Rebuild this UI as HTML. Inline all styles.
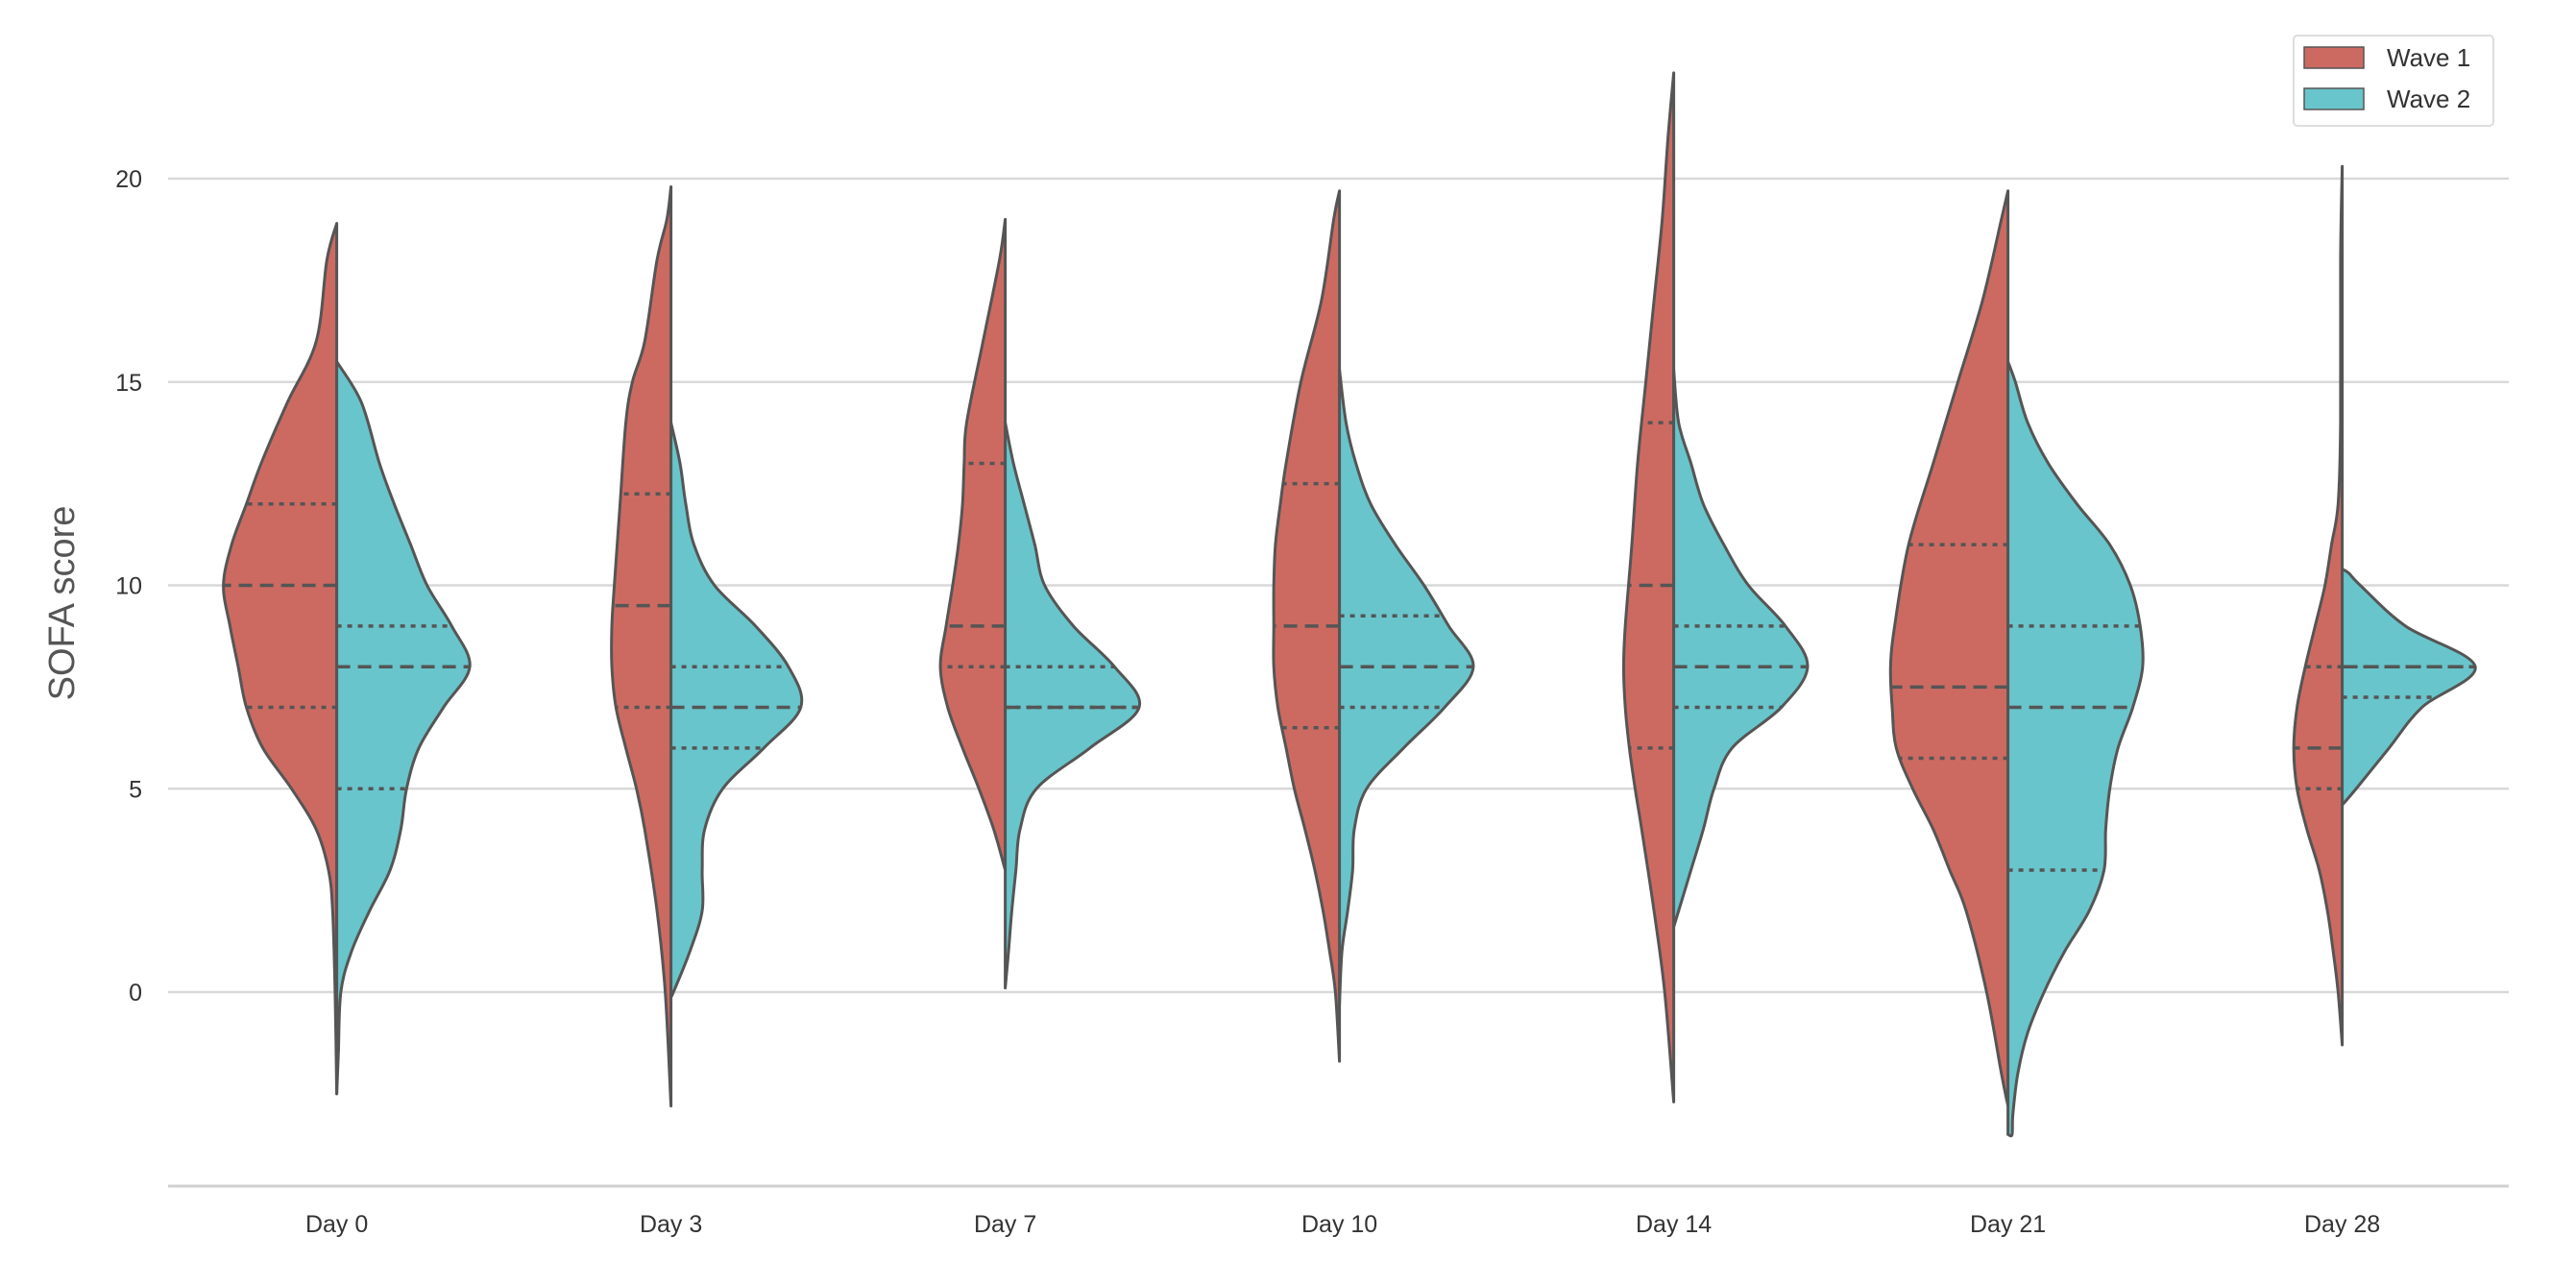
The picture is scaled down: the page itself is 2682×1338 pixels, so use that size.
<!DOCTYPE html>
<html><head><meta charset="utf-8"><style>
html,body{margin:0;padding:0;background:#fff;}
svg{display:block;font-family:"Liberation Sans",Arial,sans-serif;}
</style></head><body>
<svg id="chart" width="2682" height="1338" viewBox="0 0 2682 1338" xmlns="http://www.w3.org/2000/svg">
<g id="grid"></g>
<g id="violins"></g>
<g id="axes"></g>
<text x="77" y="628" transform="rotate(-90 77 628)" text-anchor="middle" font-size="38" fill="#555">SOFA score</text>
<g>
<rect x="2388" y="37" width="208" height="94" rx="4" fill="#fff" stroke="#ddd" stroke-width="2"/>
<rect x="2399" y="49" width="62" height="22" fill="#cc6a62" stroke="#555" stroke-width="1.5"/>
<text x="2485" y="69" font-size="26" fill="#333">Wave 1</text>
<rect x="2399" y="92" width="62" height="22" fill="#68c5cb" stroke="#555" stroke-width="1.5"/>
<text x="2485" y="112" font-size="26" fill="#333">Wave 2</text>
</g>
</svg>
<script>
const categories = ["Day 0","Day 3","Day 7","Day 10","Day 14","Day 21","Day 28"];
const yTicks = [0,5,10,15,20];
// density profiles: [score, density]
const wave1Profiles = [
 [[18.9,0],[18,12],[16,25],[14.5,60],[13,92],[12,110],[11,128],[10,138],[9,130],[8,120],[7,110],[6,90],[5,55],[4,25],[3,10],[2,5],[0,2],[-2.5,0]],
 [[19.8,0],[19,5],[18,17],[16,32],[15,47],[14,55],[12,62],[10,69],[9,72],[8,72],[7,67],[6,55],[5,42],[4,32],[2,17],[0,7],[-2.8,0]],
 [[19,0],[18,7],[16,27],[14,47],[13,50],[12,52],[11,57],[10,64],[9,72],[8,79],[7,70],[6,52],[5,32],[4,14],[3,0]],
 [[19.7,0],[19,7],[17,22],[15,47],[13,65],[12,72],[11,78],[10,80],[9,80],[8,80],[7,75],[6,65],[5,55],[4,42],[3,30],[2,20],[1,12],[0,5],[-1.7,0]],
 [[22.6,0],[21,7],[19,14],[17,24],[15,34],[13,44],[11,51],[9,59],[8,61],[7,59],[6,54],[5,47],[4,39],[2,24],[0,11],[-2.7,0]],
 [[19.7,0],[19,8],[17,31],[15,61],[13,91],[11,121],[9,138],[8,143],[7,141],[6,136],[5,116],[4,91],[3,71],[2,51],[0,26],[-2,8],[-2.8,0]],
 [[20.3,0],[18,2],[14,2],[12,5],[11,13],[10,21],[9,33],[8,45],[7,55],[6,59],[5,55],[4,43],[3,28],[2,18],[1,11],[0,5],[-1.3,0]]
];
const wave2Profiles = [
 [[15.5,0],[14.5,30],[13,52],[12,70],[11,90],[10,110],[9,140],[8,162],[7,130],[6,100],[5,85],[4,78],[3,65],[2,40],[1,18],[0,5],[-1.5,2],[-2.5,0]],
 [[14,0],[13,11],[12,18],[11,28],[10,53],[9,103],[8,143],[7,158],[6,113],[5,63],[4,41],[3,38],[2,38],[1,23],[0,3],[-0.1,0]],
 [[14,0],[13,10],[12,23],[11,36],[10,48],[9,83],[8,133],[7,163],[6,103],[5,38],[4,18],[3,13],[2,8],[1,4],[0.1,0]],
 [[15.3,0],[14,8],[13,20],[12,38],[11,68],[10,103],[9,133],[8,163],[7,128],[6,78],[5,33],[4,18],[3,16],[2,10],[1,3],[-0.3,0]],
 [[15.3,0],[14,6],[13,21],[12,36],[11,61],[10,91],[9,136],[8,163],[7,131],[6,71],[5,49],[4,36],[3,21],[2,6],[1.6,0]],
 [[15.5,0],[15,9],[14,24],[13,49],[12,84],[11,124],[10,149],[9,161],[8,164],[7,152],[6,134],[5,124],[4,119],[3,117],[2,99],[1,69],[0,44],[-1,24],[-2,12],[-3,6],[-3.5,5],[-3.5,0]],
 [[10.4,0],[10.3,8],[10,22],[9,77],[8,162],[7,97],[6,57],[5,17],[4.6,0]]
];
// quartiles [q1, median, q3]
const wave1Quartiles = [[7,10,12],[7,9.5,12.25],[8,9,13],[6.5,9,12.5],[6,10,14],[5.75,7.5,11],[5,6,8]];
const wave2Quartiles = [[5,8,9],[6,7,8],[7,7,8],[7,8,9.25],[7,8,9],[3,7,9],[7.25,8,8]];

const NS="http://www.w3.org/2000/svg";
const plotL=175, plotR=2612, axisY=1235;
const y0px=1033, pxPerUnit=42.35;
const x0=350.6, xStep=348;
const widthScale=0.855;
function yScale(v){return y0px - v*pxPerUnit;}
function xScale(i){return x0 + i*xStep;}
function mk(tag,attrs,parent){const e=document.createElementNS(NS,tag);for(const k in attrs)e.setAttribute(k,attrs[k]);parent.appendChild(e);return e;}

const grid=document.getElementById('grid'), axes=document.getElementById('axes'), vg=document.getElementById('violins');
yTicks.forEach(t=>{
  const l=mk('line',{x1:plotL,x2:plotR,y1:yScale(t),y2:yScale(t),stroke:'#d9d9d9','stroke-width':2.5},grid);
  
  
  const tx=mk('text',{x:148,y:yScale(t)+9,'text-anchor':'end','font-size':25,fill:'#333'},axes);
  tx.textContent=t;
  
  
});
const ax=mk('line',{x1:plotL,x2:plotR,y1:axisY,y2:axisY,stroke:'#d0d0d0','stroke-width':3},axes);


categories.forEach((c,i)=>{
  const tx=mk('text',{x:xScale(i),y:1283,'text-anchor':'middle','font-size':25,fill:'#333'},axes);
  tx.textContent=c;
  
  
});

function smoothPath(pts){
  let d='M'+pts[0][0]+','+pts[0][1];
  for(let i=0;i<pts.length-1;i++){
    const p0=pts[Math.max(i-1,0)],p1=pts[i],p2=pts[i+1],p3=pts[Math.min(i+2,pts.length-1)];
    const c1=[p1[0]+(p2[0]-p0[0])/6,p1[1]+(p2[1]-p0[1])/6];
    const c2=[p2[0]-(p3[0]-p1[0])/6,p2[1]-(p3[1]-p1[1])/6];
    d+=' C'+c1[0]+','+c1[1]+' '+c2[0]+','+c2[1]+' '+p2[0]+','+p2[1];
  }
  return d;
}
function widthAt(prof,v){
  for(let i=0;i<prof.length-1;i++){
    const a=prof[i],b=prof[i+1];
    if(v<=a[0]&&v>=b[0]){const t=a[0]===b[0]?0:(a[0]-v)/(a[0]-b[0]);return a[1]+(b[1]-a[1])*t;}
  }
  return 0;
}
function drawHalf(i,prof,quarts,side,color,name){
  const cx=xScale(i);
  const pts=prof.map(p=>[cx+side*p[1]*widthScale,yScale(p[0])]);
  let d=smoothPath(pts)+' L'+cx+','+yScale(prof[prof.length-1][0])+' L'+cx+','+yScale(prof[0][0])+' Z';
  const p=mk('path',{d:d,fill:color,stroke:'#555','stroke-width':3,'stroke-linejoin':'round'},vg);
  
  
  quarts.forEach((q,k)=>{
    const w=widthAt(prof,q)*widthScale;
    const l=mk('line',{x1:cx,x2:cx+side*w,y1:yScale(q),y2:yScale(q),stroke:'#555','stroke-width':3.5,'stroke-dasharray':k===1?'14,8':'5,6'},vg);
    
    
  });
}
categories.forEach((c,i)=>{
  const slug=c.toLowerCase().replace(' ','-');
  drawHalf(i,wave1Profiles[i],wave1Quartiles[i],-1,'#cc6a62','violin-wave1-'+slug);
  drawHalf(i,wave2Profiles[i],wave2Quartiles[i],1,'#68c5cb','violin-wave2-'+slug);
});
</script>
</body></html>
